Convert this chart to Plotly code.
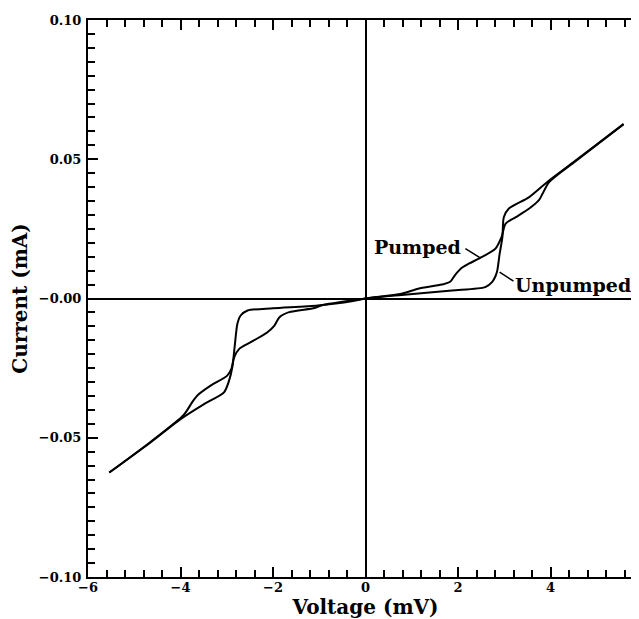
import plotly.graph_objects as go

# Unpumped I-V curve (mV, mA)
v_unpumped = [-5.54, -4.65, -4.00, -3.49, -3.06, -2.95, -2.88, -2.83, -2.77, -2.70,
              -2.55, -2.00, -1.03, -0.30, 0.0, 0.78, 1.87, 2.59, 2.74, 2.81, 2.85,
              2.90, 2.96, 2.99, 3.10, 3.54, 3.97, 4.50, 5.58]
i_unpumped = [-0.0625, -0.0517, -0.0433, -0.0379, -0.0337, -0.0295, -0.0247, -0.0175,
              -0.0091, -0.0061, -0.0043, -0.0035, -0.0025, -0.0010, 0.0, 0.0013,
              0.0029, 0.0041, 0.0060, 0.0080, 0.0101, 0.0160, 0.0220, 0.0292, 0.0323,
              0.0364, 0.0424, 0.0490, 0.0626]

# Pumped I-V curve (mV, mA)
v_pumped = [-5.54, -4.65, -3.93, -3.75, -3.64, -3.35, -2.99, -2.90, -2.84, -2.73,
            -2.48, -2.12, -1.97, -1.86, -1.65, -1.10, -0.96, 0.0, 0.78, 1.14, 1.65,
            1.83, 1.94, 2.09, 2.23, 2.45, 2.81, 2.94, 3.03, 3.25, 3.54, 3.75, 3.83,
            3.97, 4.50, 5.58]
i_pumped = [-0.0625, -0.0515, -0.0418, -0.0373, -0.0349, -0.0313, -0.0277, -0.0253,
            -0.0211, -0.0181, -0.0157, -0.0121, -0.0097, -0.0067, -0.0049, -0.0034,
            -0.0025, 0.0, 0.0017, 0.0035, 0.0050, 0.0060, 0.0085, 0.0111, 0.0125,
            0.0143, 0.0179, 0.0220, 0.0269, 0.0292, 0.0323, 0.0353, 0.0377, 0.0418,
            0.0488, 0.0626]

# Tick labels
x_tickvals = [-6, -4, -2, 0, 2, 4, 6]
x_ticktext = ["\u22126", "\u22124", "\u22122", "0", "2", "4", "6"]
y_tickvals = [-0.10, -0.05, 0.0, 0.05, 0.10]
y_ticktext = ["\u22120.10", "\u22120.05", "\u22120.00", "0.05", "0.10"]

# Labels and leader lines
label_pumped = ("Pumped", 1.13, 0.0185)
leader_pumped_v = [2.16, 2.49]
leader_pumped_i = [0.0179, 0.0145]
label_unpumped = ("Unpumped", 4.49, 0.0047)
leader_unpumped_v = [2.90, 3.20]
leader_unpumped_i = [0.0095, 0.0062]

fig = go.Figure()
line_style = dict(color="black", width=2, shape="spline", smoothing=0.7)
fig.add_trace(go.Scatter(x=v_unpumped, y=i_unpumped, mode="lines", line=line_style,
                         name="Unpumped", showlegend=False))
fig.add_trace(go.Scatter(x=v_pumped, y=i_pumped, mode="lines", line=line_style,
                         name="Pumped", showlegend=False))
fig.add_trace(go.Scatter(x=leader_pumped_v, y=leader_pumped_i, mode="lines",
                         line=dict(color="black", width=1.5), showlegend=False,
                         hoverinfo="skip"))
fig.add_trace(go.Scatter(x=leader_unpumped_v, y=leader_unpumped_i, mode="lines",
                         line=dict(color="black", width=1.5), showlegend=False,
                         hoverinfo="skip"))

for text, xv, yv in [label_pumped, label_unpumped]:
    fig.add_annotation(x=xv, y=yv, text=text, showarrow=False, xanchor="center",
                       yanchor="middle",
                       font=dict(family="DejaVu Serif", size=19, color="black",
                                 weight="bold"))

tick_font = dict(family="DejaVu Serif", size=13, color="black", weight="bold")
title_font = dict(family="DejaVu Serif", size=20, color="black", weight="bold")

fig.update_xaxes(range=[-6, 6], tickmode="array", tickvals=x_tickvals,
                 ticktext=x_ticktext, ticks="inside", ticklen=10, tickwidth=1.8,
                 tickcolor="black", showline=True, linecolor="black", linewidth=2,
                 mirror="allticks", showgrid=False, zeroline=True,
                 zerolinecolor="black", zerolinewidth=1.5, tickfont=tick_font,
                 ticklabelstandoff=-3,
                 minor=dict(tick0=0, dtick=0.4, ticks="inside", ticklen=7,
                            tickwidth=1.5, tickcolor="black", showgrid=False),
                 title=dict(text="Voltage (mV)", font=title_font, standoff=0),
                 automargin=False)
fig.update_yaxes(range=[-0.10, 0.10], tickmode="array", tickvals=y_tickvals,
                 ticktext=y_ticktext, ticks="inside", ticklen=10, tickwidth=1.8,
                 tickcolor="black", showline=True, linecolor="black", linewidth=2,
                 mirror="allticks", showgrid=False, zeroline=True,
                 zerolinecolor="black", zerolinewidth=1.5, tickfont=tick_font,
                 ticklabelstandoff=2,
                 minor=dict(tick0=0, dtick=0.005, ticks="inside", ticklen=7,
                            tickwidth=1.5, tickcolor="black", showgrid=False),
                 title=dict(text="Current (mA)", font=title_font, standoff=9),
                 automargin=False)

fig.update_layout(width=635, height=611, margin=dict(l=80, r=0, t=12, b=42),
                  plot_bgcolor="white", paper_bgcolor="white", showlegend=False)

fig.write_html("out.html")
